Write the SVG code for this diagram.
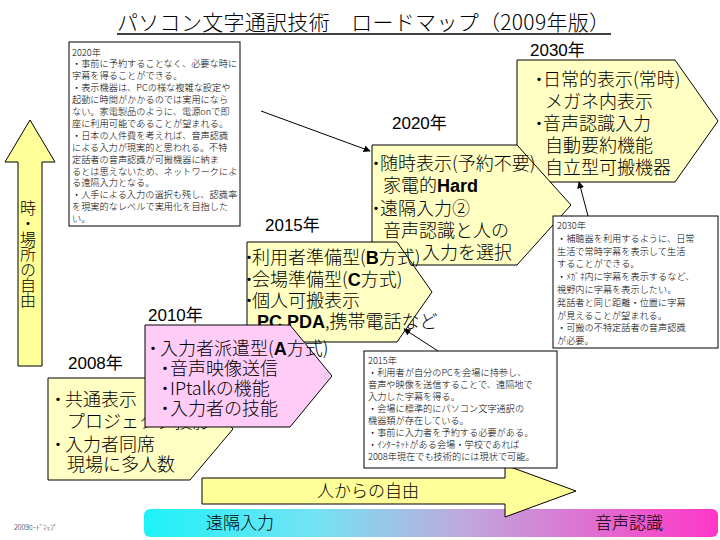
<svg xmlns="http://www.w3.org/2000/svg" width="720" height="540" viewBox="0 0 720 540">
<defs>
<style>
text{font-family:"Noto Sans CJK JP","Noto Sans CJK SC",sans-serif;font-weight:300;fill:#000}
.big{font-size:18px}
.note{font-size:9.2px}
.yr{font-family:"Liberation Sans","Noto Sans CJK JP",sans-serif;font-size:17px;font-weight:normal}
.b{font-family:"Liberation Sans","Noto Sans CJK JP",sans-serif;font-weight:bold}
.pent{fill:#FFFFC4;stroke:#000;stroke-width:1}
.pink{fill:#FFCCF8;stroke:#000;stroke-width:1}
.arr{fill:#FFFF99;stroke:#000;stroke-width:1}
.box{fill:#fff;stroke:#000;stroke-width:1}
.con{stroke:#000;stroke-width:1;fill:none;marker-end:url(#ah)}
</style>
<linearGradient id="grad" x1="0" y1="0" x2="1" y2="0">
<stop offset="0" stop-color="#1EF2F8"/>
<stop offset="0.3" stop-color="#74E2F4"/>
<stop offset="0.55" stop-color="#BEAADC"/>
<stop offset="1" stop-color="#FF36C8"/>
</linearGradient>
<marker id="ah" viewBox="0 0 10 10" refX="9" refY="5" markerWidth="7" markerHeight="7" orient="auto"><path d="M0,0 L10,5 L0,10 z" fill="#000"/></marker>
</defs>

<g id="title">
<text x="117" y="30" font-size="21" textLength="493" lengthAdjust="spacing">パソコン文字通訳技術　ロードマップ（2009年版）</text>
<line x1="117" y1="34" x2="611" y2="34" stroke="#000" stroke-width="1.5"/>
</g>

<g id="axis-place">
<polygon class="arr" points="30,120 55,162 42,162 42,366 18,366 18,162 5,162"/>
<text x="28" y="200" style="writing-mode:vertical-rl;font-size:16px;letter-spacing:-0.6px">時・場所の自由</text>
</g>

<g id="bar-bottom">
<rect x="144" y="509" width="574" height="28" rx="6" fill="url(#grad)"/>
<text x="240" y="529" font-size="17" text-anchor="middle">遠隔入力</text>
<text x="629" y="529" font-size="17" text-anchor="middle">音声認識</text>
</g>

<g id="axis-people">
<polygon class="arr" points="202,478 505,478 505,465 576,491 505,517 505,504 202,504"/>
<text x="368" y="497" font-size="17" text-anchor="middle">人からの自由</text>
</g>

<text x="14" y="530" font-size="7">2009ﾛｰﾄﾞﾏｯﾌﾟ</text>

<g id="node-2030">
<text class="yr" x="530" y="56">2030年</text>
<polygon class="pent" points="517,60 675,60 718,121 675,182 517,182"/>
<g class="big">
<text x="530" y="86">・<tspan dx="-5">日常的表示(常時)</tspan></text>
<text x="545" y="108">メガネ内表示</text>
<text x="530" y="130">・<tspan dx="-5">音声認識入力</tspan></text>
<text x="545" y="152">自動要約機能</text>
<text x="545" y="174">自立型可搬機器</text>
</g>
</g>

<g id="node-2020">
<text class="yr" x="392" y="129">2020年</text>
<polygon class="pent" points="372,145 517,145 571,205 517,265 372,265"/>
<g class="big">
<text x="367" y="170">・<tspan dx="-5">随時表示(予約不要)</tspan></text>
<text x="383" y="192">家電的<tspan class="b">Hard</tspan></text>
<text x="367" y="215">・<tspan dx="-5">遠隔入力②</tspan></text>
<text x="383" y="237">音声認識と人の</text>
<text x="422" y="259">入力を選択</text>
</g>
</g>

<g id="node-2015">
<text class="yr" x="265" y="231">2015年</text>
<polygon class="pent" points="247,242 397,242 432,292 397,342 247,342"/>
<g class="big">
<text x="240" y="264">・<tspan dx="-6">利用者準備型(<tspan class="b">B</tspan>方式)</tspan></text>
<text x="240" y="286">・<tspan dx="-6">会場準備型(<tspan class="b">C</tspan>方式)</tspan></text>
<text x="240" y="307">・<tspan dx="-6">個人可搬表示</tspan></text>
<text x="257" y="328"><tspan class="b">PC,PDA</tspan>,携帯電話など</text>
</g>
</g>

<g id="node-2008">
<text class="yr" x="68" y="369">2008年</text>
<polygon class="pent" points="48,378 190,378 233,429 190,480 48,480"/>
<g class="big">
<text x="49" y="406">・<tspan dx="-2">共通表示</tspan></text>
<text x="67" y="428">プロジェクタ投影</text>
<text x="49" y="451">・<tspan dx="-2">入力者同席</tspan></text>
<text x="67" y="471">現場に多人数</text>
</g>
</g>

<g id="node-2010">
<text class="yr" x="148" y="321">2010年</text>
<polygon class="pink" points="145,325 290,325 332,376 290,427 145,427"/>
<g class="big">
<text x="144" y="355">・<tspan dx="-2">入力者派遣型(<tspan class="b">A</tspan>方式)</tspan></text>
<text x="156" y="375">・<tspan dx="-4">音声映像送信</tspan></text>
<text x="156" y="395">・<tspan dx="-4">IPtalkの機能</tspan></text>
<text x="156" y="415">・<tspan dx="-4">入力者の技能</tspan></text>
</g>
</g>

<g id="note-2020">
<rect class="box" x="69" y="42" width="171" height="184"/>
<g class="note">
<text x="72" y="55.5">2020年</text>
<text x="72" y="67.4">・事前に予約することなく、必要な時に</text>
<text x="72" y="79.3">字幕を得ることができる。</text>
<text x="72" y="91.2">・表示機器は、PCの様な複雑な設定や</text>
<text x="72" y="103.1">起動に時間がかかるのでは実用になら</text>
<text x="72" y="115">ない。家電製品のように、電源onで即</text>
<text x="72" y="126.9">座に利用可能であることが望まれる。</text>
<text x="72" y="138.8">・日本の人件費を考えれば、音声認識</text>
<text x="72" y="150.7">による入力が現実的と思われる。不特</text>
<text x="72" y="162.6">定話者の音声認識が可搬機器に納ま</text>
<text x="72" y="174.5">るとは思えないため、ネットワークによ</text>
<text x="72" y="186.4">る遠隔入力となる。</text>
<text x="72" y="198.3">・人手による入力の選択も残し、認識率</text>
<text x="72" y="210.2">を現実的なレベルで実用化を目指した</text>
<text x="72" y="222.1">い。</text>
</g>
</g>

<g id="note-2030">
<rect class="box" x="553" y="216" width="165" height="132"/>
<g class="note">
<text x="557" y="229">2030年</text>
<text x="557" y="241.8">・補聴器を利用するように、日常</text>
<text x="557" y="254.6">生活で常時字幕を表示して生活</text>
<text x="557" y="267.4">することができる。</text>
<text x="557" y="280.2">・ﾒｶﾞﾈ内に字幕を表示するなど、</text>
<text x="557" y="293">視野内に字幕を表示したい。</text>
<text x="557" y="305.8">発話者と同じ距離・位置に字幕</text>
<text x="557" y="318.6">が見えることが望まれる。</text>
<text x="557" y="331.4">・可搬の不特定話者の音声認識</text>
<text x="557" y="344.2">が必要。</text>
</g>
</g>

<g id="note-2015">
<rect class="box" x="364" y="351" width="193" height="117"/>
<g class="note">
<text x="368" y="364.2">2015年</text>
<text x="368" y="376.2">・利用者が自分のPCを会場に持参し、</text>
<text x="368" y="388.2">音声や映像を送信することで、遠隔地で</text>
<text x="368" y="400.2">入力した字幕を得る。</text>
<text x="368" y="412.2">・会場に標準的にパソコン文字通訳の</text>
<text x="368" y="424.2">機器類が存在している。</text>
<text x="368" y="436.2">・事前に入力者を予約する必要がある。</text>
<text x="368" y="448.2">・ｲﾝﾀｰﾈｯﾄがある会場・学校であれば</text>
<text x="368" y="460.2">2008年現在でも技術的には現状で可能。</text>
</g>
</g>

<g id="connectors">
<line class="con" x1="261" y1="111" x2="370" y2="151"/>
<line class="con" x1="438" y1="351" x2="404" y2="329"/>
<line class="con" x1="588" y1="216" x2="579" y2="182"/>
</g>
</svg>
